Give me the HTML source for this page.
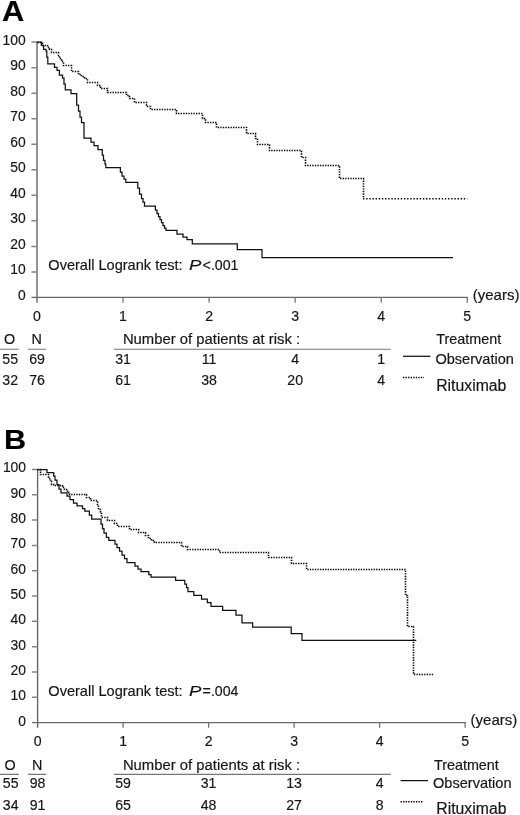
<!DOCTYPE html>
<html lang="en"><head><meta charset="utf-8"><title>Kaplan-Meier curves</title>
<style>
html,body{margin:0;padding:0;background:#fff}
svg{display:block}
text{font-family:"Liberation Sans",Arial,Helvetica,sans-serif;fill:#161616;stroke:#161616;stroke-width:0.18px}
.t{font-size:14.75px}
.d{font-size:15.3px}
.e{text-anchor:end}
.m{text-anchor:middle}
.big{font-size:28.3px;font-weight:bold;fill:#000}
.lr{font-size:14.95px}
.pi{font-size:15.2px;font-style:italic}
.pv{font-size:14.2px}
.rx{font-size:15.6px}
.yr{font-size:15.4px}
.ob{font-size:14.95px}
.np{font-size:15.0px}
.ayA{fill:none;stroke:#8e8e8e;stroke-width:1.9}
.ayB{fill:none;stroke:#626262;stroke-width:1.35}
.axx{fill:none;stroke:#686868;stroke-width:1.25}
.tky{fill:none;stroke:#858585;stroke-width:1.5}
.tkx{fill:none;stroke:#707070;stroke-width:1.25}
.ul{fill:none;stroke:#777;stroke-width:1.2}
.sol{fill:none;stroke:#111;stroke-width:1.25;stroke-linejoin:miter}
.dot{fill:none;stroke:#000;stroke-width:1.6;stroke-dasharray:1.35 1.2}
.dw{stroke-dasharray:1.4 1.75}
</style></head>
<body>
<svg width="520" height="815" viewBox="0 0 520 815">
<rect width="520" height="815" fill="#fff"/>
<text transform="translate(2.10 20.90) scale(1.035 1)" class="big" style="font-size:29.8px">A</text>
<path class="ayA" d="M37.00,41.50 V302.65"/>
<path class="axx" d="M31.40,297.45 H467.85"/>
<path class="tky" d="M31.40,42.10 H37.00M31.40,67.64 H37.00M31.40,93.17 H37.00M31.40,118.71 H37.00M31.40,144.24 H37.00M31.40,169.78 H37.00M31.40,195.31 H37.00M31.40,220.84 H37.00M31.40,246.38 H37.00M31.40,271.92 H37.00"/>
<path class="tkx" d="M123.05,297.45 V302.65M209.10,297.45 V302.65M295.15,297.45 V302.65M381.20,297.45 V302.65M467.25,297.45 V302.65"/>
<text transform="translate(25.60 44.60) scale(0.905 1)" class="d e">100</text>
<text transform="translate(25.60 70.14) scale(0.905 1)" class="d e">90</text>
<text transform="translate(25.60 95.67) scale(0.905 1)" class="d e">80</text>
<text transform="translate(25.60 121.21) scale(0.905 1)" class="d e">70</text>
<text transform="translate(25.60 146.74) scale(0.905 1)" class="d e">60</text>
<text transform="translate(25.60 172.28) scale(0.905 1)" class="d e">50</text>
<text transform="translate(25.60 197.81) scale(0.905 1)" class="d e">40</text>
<text transform="translate(25.60 223.34) scale(0.905 1)" class="d e">30</text>
<text transform="translate(25.60 248.88) scale(0.905 1)" class="d e">20</text>
<text transform="translate(25.60 274.42) scale(0.905 1)" class="d e">10</text>
<text transform="translate(25.60 299.95) scale(0.905 1)" class="d e">0</text>
<text transform="translate(37.00 321.15) scale(0.925 1)" class="d m">0</text>
<text transform="translate(123.05 321.15) scale(0.925 1)" class="d m">1</text>
<text transform="translate(209.10 321.15) scale(0.925 1)" class="d m">2</text>
<text transform="translate(295.15 321.15) scale(0.925 1)" class="d m">3</text>
<text transform="translate(381.20 321.15) scale(0.925 1)" class="d m">4</text>
<text transform="translate(467.25 321.15) scale(0.925 1)" class="d m">5</text>
<text transform="translate(472.75 300.05) scale(0.975 1)" class="t yr">(years)</text>
<path class="dot" d="M37.50,42.50 H42.50 V45.50 H47.50 V47.50 H49.50 V49.50 H51.50 V52.50 H58.50 V55.50 H59.50 V58.50 H61.50 V61.50 H63.50 V65.50 H71.50 V71.50 H78.50 V74.50 H81.50 V76.50 H84.50 V78.50 H87.50 V82.50 H97.50 V85.50 H100.50 V88.50 H107.50 V92.50 H126.50 V95.50 H129.50 V98.50 H134.50 V102.50 H146.50 V106.50 H150.50 V109.50 H176.50 V113.50 H202.50 V118.50 H205.50 V122.50 H216.50 V127.50 H246.50 V133.50 H255.50 V138.50 H257.50 V144.50 H269.50 V150.50 H301.50 V157.50 H305.50 V165.50 H339.50 V178.50 H363.50 V198.50"/>
<path class="dot dw" d="M363,198.7 H467.3"/>
<path class="sol" d="M37.00,42.10 H41.40 V45.30 H43.60 V49.30 H46.00 V51.00 H46.80 V57.00 H47.80 V63.80 H54.50 V67.30 H57.00 V70.30 H59.40 V75.00 H62.50 V78.00 H64.00 V84.00 H65.30 V89.80 H71.00 V93.50 H76.70 V105.00 H78.50 V111.00 H80.00 V117.00 H81.50 V122.70 H84.00 V138.00 H91.00 V142.00 H94.00 V145.70 H98.00 V149.60 H102.30 V155.00 H103.50 V160.30 H105.00 V164.00 H105.80 V167.70 H120.40 V172.00 H122.00 V176.00 H124.00 V179.00 H125.80 V182.30 H137.80 V188.00 H139.50 V194.00 H141.50 V198.50 H143.00 V202.00 H144.50 V206.00 H155.40 V210.00 H157.00 V213.50 H158.50 V216.50 H160.00 V219.50 H161.50 V222.50 H163.00 V225.50 H164.50 V228.00 H166.00 V230.40 H177.00 V234.00 H183.00 V237.00 H187.00 V239.60 H192.30 V243.80 H237.30 V249.60 H262.00 V257.70 H453.00 V257.70"/>
<text transform="translate(48.30 270.45) scale(0.975 1)" class="t lr">Overall Logrank test:</text>
<text transform="translate(188.90 270.45) scale(1.220 1)" class="t pi">P</text>
<text transform="translate(202.60 270.45) scale(1.000 1)" class="t pv">&lt;.001</text>
<text transform="translate(9.70 344.35) scale(0.975 1)" class="t m">O</text>
<text transform="translate(36.80 344.35) scale(0.975 1)" class="t m">N</text>
<text transform="translate(122.90 344.35) scale(0.990 1)" class="t np">Number of patients at risk :</text>
<path class="ul" d="M0,349.25 H18.8 M28,349.25 H46.2 M113.8,349.25 H390.8"/>
<text transform="translate(10.20 363.65) scale(0.925 1)" class="d m">55</text>
<text transform="translate(37.00 363.65) scale(0.925 1)" class="d m">69</text>
<text transform="translate(10.20 385.45) scale(0.925 1)" class="d m">32</text>
<text transform="translate(37.00 385.45) scale(0.925 1)" class="d m">76</text>
<text transform="translate(123.05 363.65) scale(0.925 1)" class="d m">31</text>
<text transform="translate(123.05 385.45) scale(0.925 1)" class="d m">61</text>
<text transform="translate(209.10 363.65) scale(0.925 1)" class="d m">11</text>
<text transform="translate(209.10 385.45) scale(0.925 1)" class="d m">38</text>
<text transform="translate(295.15 363.65) scale(0.925 1)" class="d m">4</text>
<text transform="translate(295.15 385.45) scale(0.925 1)" class="d m">20</text>
<text transform="translate(381.20 363.65) scale(0.925 1)" class="d m">1</text>
<text transform="translate(381.20 385.45) scale(0.925 1)" class="d m">4</text>
<text transform="translate(436.30 344.35) scale(0.975 1)" class="t">Treatment</text>
<text transform="translate(435.40 363.55) scale(0.975 1)" class="t ob">Observation</text>
<text transform="translate(436.20 391.05) scale(1.012 1)" class="t rx">Rituximab</text>
<path class="sol" d="M403.00,356.30 h27.4"/>
<path class="dot" d="M403.00,377.55 h21.0"/>
<text transform="translate(4.00 449.30) scale(1.080 1)" class="big" style="font-size:28.4px">B</text>
<path class="ayB" d="M37.60,468.90 V727.80"/>
<path class="axx" d="M32.00,722.60 H465.70"/>
<path class="tky" d="M32.00,469.50 H37.60M32.00,494.81 H37.60M32.00,520.12 H37.60M32.00,545.43 H37.60M32.00,570.74 H37.60M32.00,596.05 H37.60M32.00,621.36 H37.60M32.00,646.67 H37.60M32.00,671.98 H37.60M32.00,697.29 H37.60"/>
<path class="tkx" d="M123.10,722.60 V727.80M208.60,722.60 V727.80M294.10,722.60 V727.80M379.60,722.60 V727.80M465.10,722.60 V727.80"/>
<text transform="translate(26.00 472.40) scale(0.905 1)" class="d e">100</text>
<text transform="translate(26.00 497.71) scale(0.905 1)" class="d e">90</text>
<text transform="translate(26.00 523.02) scale(0.905 1)" class="d e">80</text>
<text transform="translate(26.00 548.33) scale(0.905 1)" class="d e">70</text>
<text transform="translate(26.00 573.64) scale(0.905 1)" class="d e">60</text>
<text transform="translate(26.00 598.95) scale(0.905 1)" class="d e">50</text>
<text transform="translate(26.00 624.26) scale(0.905 1)" class="d e">40</text>
<text transform="translate(26.00 649.57) scale(0.905 1)" class="d e">30</text>
<text transform="translate(26.00 674.88) scale(0.905 1)" class="d e">20</text>
<text transform="translate(26.00 700.19) scale(0.905 1)" class="d e">10</text>
<text transform="translate(26.00 725.50) scale(0.905 1)" class="d e">0</text>
<text transform="translate(37.60 746.30) scale(0.925 1)" class="d m">0</text>
<text transform="translate(123.10 746.30) scale(0.925 1)" class="d m">1</text>
<text transform="translate(208.60 746.30) scale(0.925 1)" class="d m">2</text>
<text transform="translate(294.10 746.30) scale(0.925 1)" class="d m">3</text>
<text transform="translate(379.60 746.30) scale(0.925 1)" class="d m">4</text>
<text transform="translate(465.10 746.30) scale(0.925 1)" class="d m">5</text>
<text transform="translate(470.60 725.20) scale(0.975 1)" class="t yr">(years)</text>
<path class="dot" d="M37.50,469.50 H40.50 V474.50 H48.50 V478.50 H50.50 V481.50 H51.50 V484.50 H53.50 V485.50 H62.50 V487.50 H64.50 V489.50 H67.50 V492.50 H69.50 V494.50 H86.50 V497.50 H90.50 V500.50 H97.50 V504.50 H98.50 V509.50 H100.50 V513.50 H101.50 V517.50 H107.50 V520.50 H114.50 V523.50 H117.50 V526.50 H129.50 V529.50 H138.50 V532.50 H145.50 V535.50 H148.50 V538.50 H151.50 V540.50 H154.50 V542.50 H181.50 V546.50 H187.50 V549.50 H219.50 V552.50 H268.50 V557.50 H291.50 V563.50 H306.50 V569.50 H405.50 V595.50 H407.50 V626.50 H413.50 V674.50 H433.50 V674.50"/>
<path class="sol" d="M37.60,469.50 H47.00 V472.50 H53.70 V476.00 H55.00 V480.00 H57.00 V484.50 H59.00 V489.00 H61.00 V492.80 H67.00 V496.00 H70.00 V499.50 H73.50 V503.00 H77.00 V505.80 H82.50 V508.50 H84.80 V511.20 H89.40 V515.00 H91.70 V519.20 H101.00 V524.00 H102.50 V528.50 H104.00 V533.00 H106.40 V537.30 H108.80 V540.40 H115.00 V544.00 H117.00 V547.50 H119.50 V551.00 H122.00 V555.00 H124.50 V558.50 H127.00 V562.70 H135.00 V566.00 H138.00 V569.00 H141.00 V571.50 H148.80 V574.50 H151.00 V577.20 H175.60 V580.40 H184.80 V584.00 H186.50 V587.70 H188.00 V591.50 H193.80 V595.40 H201.50 V599.20 H207.30 V602.70 H211.00 V606.30 H222.70 V610.40 H236.00 V615.00 H242.00 V622.90 H252.60 V627.00 H291.20 V633.70 H302.00 V640.30 H416.30 V640.30"/>
<text transform="translate(48.30 695.60) scale(0.975 1)" class="t lr">Overall Logrank test:</text>
<text transform="translate(188.90 695.60) scale(1.220 1)" class="t pi">P</text>
<text transform="translate(202.60 695.60) scale(1.000 1)" class="t pv">=.004</text>
<text transform="translate(10.20 769.50) scale(0.975 1)" class="t m">O</text>
<text transform="translate(37.30 769.50) scale(0.975 1)" class="t m">N</text>
<text transform="translate(122.90 769.50) scale(0.990 1)" class="t np">Number of patients at risk :</text>
<path class="ul" d="M0,774.40 H18.8 M28,774.40 H46.2 M113.8,774.40 H390.8"/>
<text transform="translate(10.70 788.20) scale(0.925 1)" class="d m">55</text>
<text transform="translate(37.50 788.20) scale(0.925 1)" class="d m">98</text>
<text transform="translate(10.70 809.80) scale(0.925 1)" class="d m">34</text>
<text transform="translate(37.50 809.80) scale(0.925 1)" class="d m">91</text>
<text transform="translate(123.10 788.20) scale(0.925 1)" class="d m">59</text>
<text transform="translate(123.10 809.80) scale(0.925 1)" class="d m">65</text>
<text transform="translate(208.60 788.20) scale(0.925 1)" class="d m">31</text>
<text transform="translate(208.60 809.80) scale(0.925 1)" class="d m">48</text>
<text transform="translate(294.10 788.20) scale(0.925 1)" class="d m">13</text>
<text transform="translate(294.10 809.80) scale(0.925 1)" class="d m">27</text>
<text transform="translate(379.60 788.20) scale(0.925 1)" class="d m">4</text>
<text transform="translate(379.60 809.80) scale(0.925 1)" class="d m">8</text>
<text transform="translate(433.90 769.50) scale(0.975 1)" class="t">Treatment</text>
<text transform="translate(433.00 788.10) scale(0.975 1)" class="t ob">Observation</text>
<text transform="translate(436.30 813.50) scale(1.012 1)" class="t rx">Rituximab</text>
<path class="sol" d="M400.60,780.60 h27.4"/>
<path class="dot" d="M400.60,801.70 h23.0"/>
</svg>
</body></html>
